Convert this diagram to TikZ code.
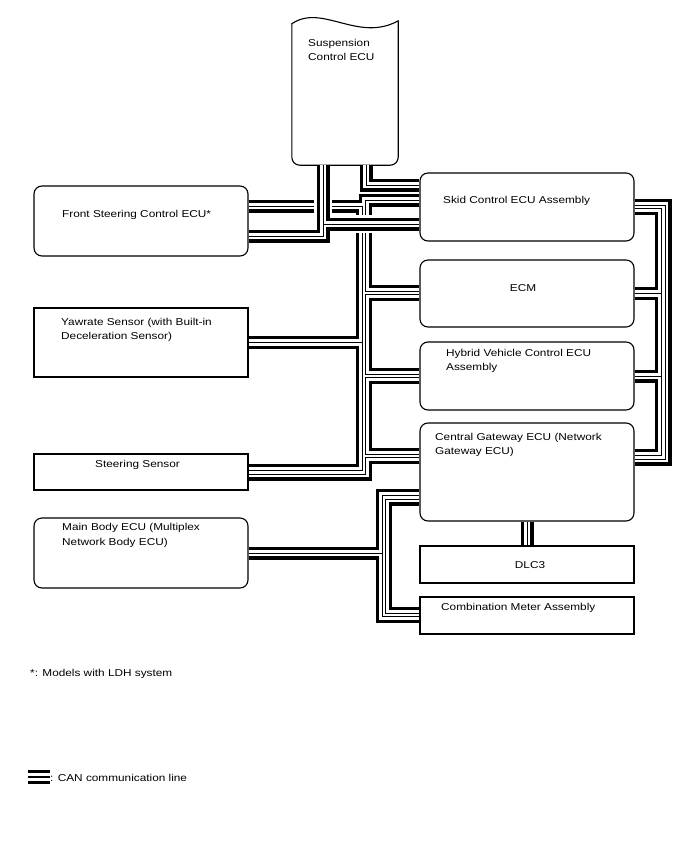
\documentclass[tikz,border=0pt]{standalone}
\usepackage{fontspec}
\setmainfont{Liberation Sans}[FakeStretch=1.18]
\usepackage{tikz}
\usetikzlibrary{positioning}
\tikzset{
  ecubox/.style={rectangle, rounded corners=8pt, minimum width=214pt, inner sep=0pt, draw=black, line width=1.1pt},
  sqbox/.style={rectangle, minimum width=214pt, inner sep=0pt, draw=black, line width=1.1pt},
  txt/.style={inner sep=0pt, align=left, anchor=base west}
}

\begin{document}
\begin{tikzpicture}[x=1pt, y=-1pt, every node/.style={font=\fontsize{10}{14.5}\selectfont}]
        \useasboundingbox (0,0) rectangle (688,852);

        % Suspension ECU (outline drawn below)
        \node (susp) [inner sep=0pt, minimum width=106pt, minimum height=141pt] at (345,94.5) {};
        \draw [line width=1.1pt, line cap=round, rounded corners=8pt] (susp.north west) -- (susp.south west) -- (susp.south east) -- ([yshift=3pt]susp.north east);
        \draw [line width=1.1pt, line cap=round] (susp.north west) .. controls (322,3) and (358,43) .. ([yshift=3pt]susp.north east);

        % Left column
        \node (fsc) [ecubox, minimum height=70pt] at (141,221) {};
        \node (yaw) [sqbox, minimum height=69pt] at (141,342.5) {};
        \node (steer) [sqbox, minimum height=36pt] at (141,472) {};
        \node (body) [ecubox, minimum height=70pt] at (141,553) {};

        % Right column
        \node (skid) [ecubox, minimum height=68pt] at (527,207) {};
        \node (ecm) [ecubox, minimum height=67pt] at (527,293.5) {};
        \node (hv) [ecubox, minimum height=68pt] at (527,376) {};
        \node (cgw) [ecubox, minimum height=98pt] at (527,472) {};
        \node (dlc) [sqbox, minimum height=37pt] at (527,564.5) {};
        \node (meter) [sqbox, minimum height=37pt] at (527,615.5) {};

        % Texts (multi-line ones are placed by their last line)
        \node (susp-t) [txt] at (308,60.5) {Suspension\\Control ECU};
        \node (fsc-t) [txt] at (62,217) {Front Steering Control ECU*};
        \node (yaw-t) [txt] at (61,339.5) {Yawrate Sensor (with Built-in\\Deceleration Sensor)};
        \node (steer-t) [txt] at (95,467) {Steering Sensor};
        \node (body-t) [txt] at (62,545) {Main Body ECU (Multiplex\\Network Body ECU)};
        \node (skid-t) [txt] at (443,203) {Skid Control ECU Assembly};
        \node (ecm-t) [txt, anchor=base] at (523,291) {ECM};
        \node (hv-t) [txt] at (446,370.5) {Hybrid Vehicle Control ECU\\Assembly};
        \node (cgw-t) [txt] at (435,454.5) {Central Gateway ECU (Network\\Gateway ECU)};
        \node (dlc-t) [txt, anchor=base] at (530,568) {DLC3};
        \node (meter-t) [txt] at (441,610) {Combination Meter Assembly};

        % Bus columns
        \coordinate (sa) at (323,0);
        \coordinate (sb) at (366,0);
        \coordinate (tl) at (362,0);
        \coordinate (tr) at (365.5,0);
        \coordinate (ro) at (665,0);
        \coordinate (ri) at (661.5,0);
        \coordinate (mo) at (382,0);
        \coordinate (mi) at (385.5,0);

        % CAN lines: outer black, white, core
        \foreach \w/\col in {13pt/black, 6.5pt/white, 1pt/black}{
          \draw [line width=\w, draw=\col]
            % suspension to front steering, branch to skid
            (sa |- susp.south) |- (fsc.east |- 0,236)
            (sa |- 0,224) -- (skid.west |- 0,224)
            (sb |- susp.south) |- (skid.west |- 0,185)
            % front steering to trunk (hop over)
            (fsc.east |- 0,206) -- (314,206)
            (332,206) -| (tl |- 0,215)
            (tl |- 0,233) |- (steer.east |- 0,470.5)
            (yaw.east) -- (tl |- yaw.east)
            % loop line through skid, ECM, hybrid, gateway
            (skid.west |- 0,200) -| (tr |- 0,215)
            (tr |- 0,233) |- (ecm.west |- 0,291)
            (ecm.west |- 0,294.5) -- (tr |- 0,294.5) |- (hv.west |- 0,374)
            (hv.west |- 0,377.5) -- (tr |- 0,377.5) |- (cgw.west |- 0,454)
            (cgw.west |- 0,457.5) -- (tr |- 0,457.5) |- (steer.east |- 0,474)
            % right side
            (skid.east |- 0,205) -- (ro |- 0,205) |- (cgw.east |- 0,459)
            (skid.east |- 0,208.5) -- (ri |- 0,208.5) |- (cgw.east |- 0,455.5)
            (ri |- ecm.east) -- (ecm.east)
            (ri |- hv.east) -- (hv.east)
            % gateway to DLC3, meter and main body
            (cgw.south) -- (dlc.north)
            (cgw.west |- 0,495.5) -- (mo |- 0,495.5) |- (meter.west |- 0,616.5)
            (cgw.west |- 0,499) -- (mi |- 0,499) |- (meter.west |- 0,613)
            (body.east) -- (mo |- body.east);
        }

        % Notes
        \node (note) [txt] at (30,676) {*: Models with LDH system};
        \foreach \y in {771.5, 777, 782.5}
          \draw [line width=2.2pt] (28,\y) -- (50,\y);
        \node (legend) [txt] at (50,781) {: CAN communication line};

\end{tikzpicture}
\end{document}
